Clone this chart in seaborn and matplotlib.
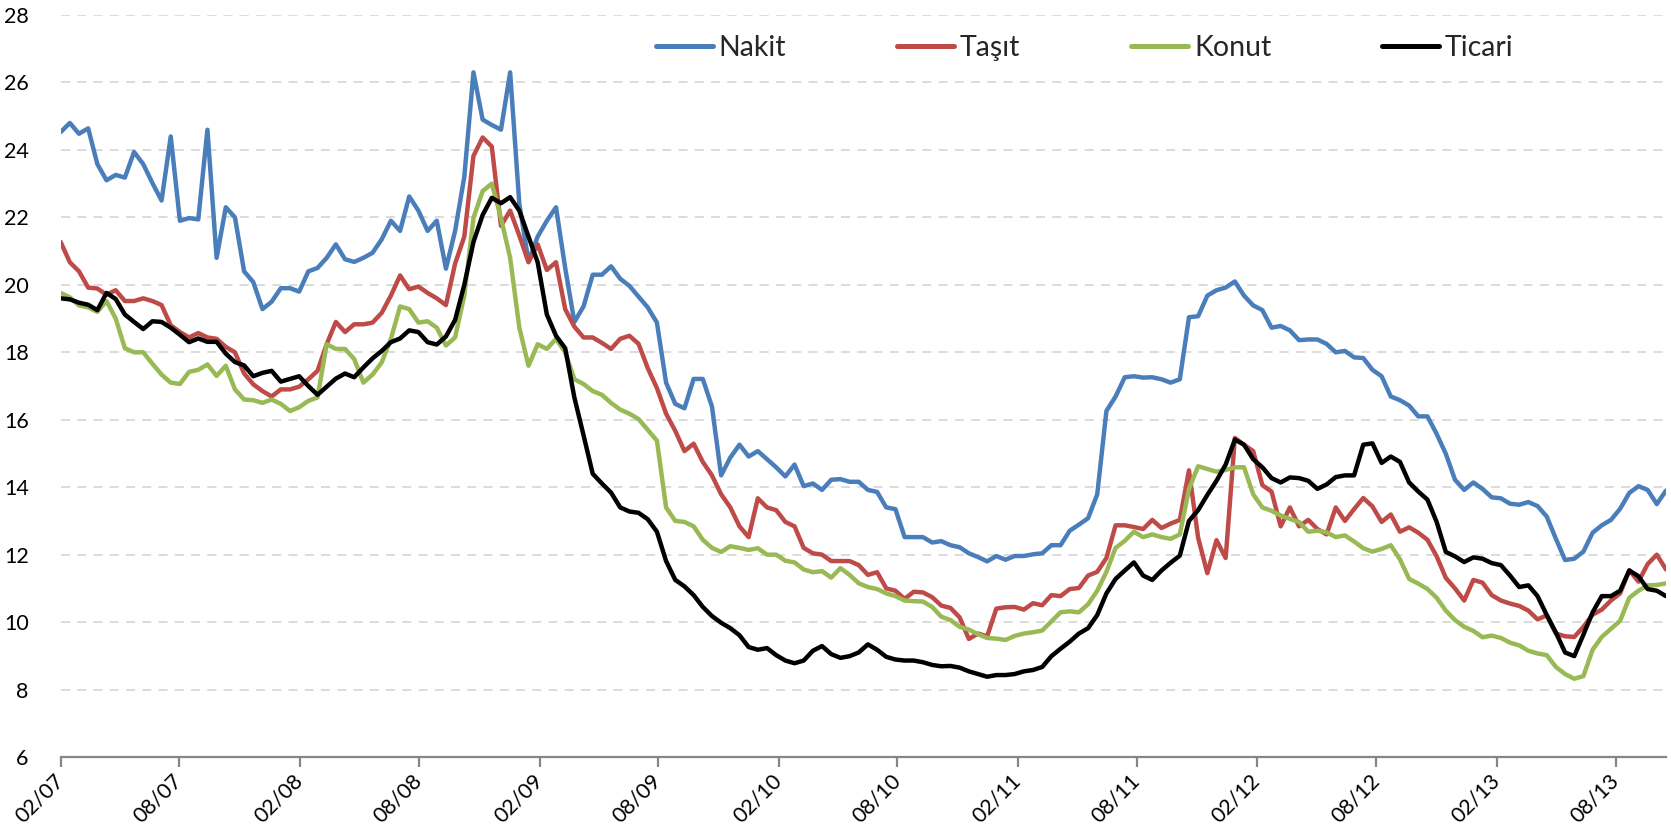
import pandas as pd
import matplotlib
matplotlib.use('Agg')
import matplotlib.pyplot as plt
import matplotlib.dates as mdates  # tarih ekseni icin
import seaborn as sns

# veriler: iki haftalik gozlemler, 02/07 - 11/13
dates = pd.date_range('2007-02-01', periods=176, freq='14D')

nakit = [24.53, 24.8, 24.48, 24.64, 23.58, 23.1, 23.26, 23.18, 23.94, 23.58, 23.02, 22.5, 24.4, 21.9, 21.98, 21.94,
         24.6, 20.8, 22.3, 22.0, 20.4, 20.08, 19.28, 19.5, 19.9, 19.9, 19.8, 20.4, 20.5, 20.8, 21.2,
         20.76, 20.68, 20.8, 20.95, 21.35, 21.9, 21.6, 22.62, 22.2, 21.6, 21.9, 20.48, 21.6, 23.2, 26.3, 24.9,
         24.74, 24.6, 26.3, 22.4, 20.7, 21.43, 21.9, 22.3, 20.5, 18.9, 19.36, 20.3, 20.3, 20.55, 20.18,
         19.97, 19.65, 19.33, 18.88, 17.1, 16.47, 16.34, 17.21, 17.21, 16.39, 14.35, 14.88, 15.26, 14.91, 15.07,
         14.83, 14.59, 14.32, 14.67, 14.03, 14.11, 13.92, 14.22, 14.24, 14.16, 14.16, 13.92, 13.86, 13.4, 13.35,
         12.52, 12.52,
         12.52, 12.36, 12.4, 12.28, 12.22, 12.04, 11.93, 11.8, 11.96, 11.85, 11.96, 11.96, 12.01, 12.04, 12.28,
         12.28, 12.71, 12.89, 13.08, 13.79, 16.26, 16.69, 17.26, 17.29, 17.25, 17.26, 17.2, 17.1, 17.2, 19.04,
         19.07, 19.68,
         19.84, 19.92, 20.1, 19.68, 19.39, 19.25, 18.73, 18.78, 18.65, 18.36, 18.38, 18.38, 18.25, 18.0, 18.04,
         17.85, 17.83, 17.48, 17.29, 16.69, 16.58, 16.42, 16.1, 16.1, 15.58, 14.99, 14.22, 13.92, 14.14, 13.95,
         13.7,
         13.67, 13.51, 13.48, 13.56, 13.44, 13.13, 12.47, 11.84, 11.88, 12.09, 12.65, 12.87, 13.03, 13.36, 13.83,
         14.03, 13.92, 13.5, 13.9]

tasit = [21.27, 20.67, 20.4, 19.92, 19.89, 19.71, 19.84, 19.52, 19.52, 19.6, 19.52, 19.4, 18.8, 18.6, 18.44, 18.57,
         18.44, 18.4, 18.16, 18.0, 17.37, 17.05, 16.85, 16.69, 16.9, 16.9, 16.98, 17.2, 17.45, 18.24, 18.9,
         18.6, 18.83, 18.83, 18.88, 19.17, 19.68, 20.28, 19.87, 19.95, 19.76, 19.6, 19.4, 20.63, 21.43, 23.82,
         24.37, 24.1, 21.75, 22.2, 21.46, 20.67, 21.2, 20.44, 20.67, 19.28, 18.76, 18.44, 18.44, 18.28, 18.1, 18.4,
         18.49, 18.25, 17.53, 16.94, 16.18, 15.67, 15.07, 15.29, 14.75, 14.35, 13.79, 13.4, 12.84, 12.52, 13.67,
         13.4, 13.32, 12.97, 12.84, 12.2, 12.04, 12.0, 11.81, 11.81, 11.81, 11.69, 11.4, 11.48, 11.0, 10.93,
         10.69, 10.9,
         10.88, 10.74, 10.49, 10.42, 10.14, 9.5, 9.66, 9.58, 10.4, 10.44, 10.45, 10.37, 10.56, 10.5, 10.8, 10.77,
         10.98, 11.01, 11.38, 11.49, 11.9, 12.87, 12.87, 12.82, 12.76, 13.03, 12.79, 12.92, 13.03, 14.5, 12.5,
         11.45,
         12.43, 11.9, 15.46, 15.26, 15.07, 14.06, 13.87, 12.84, 13.4, 12.84, 13.03, 12.76, 12.6, 13.4, 13.0,
         13.35, 13.68, 13.43, 12.97, 13.19, 12.68, 12.81, 12.65, 12.44, 11.95, 11.31, 11.0, 10.64, 11.25, 11.17,
         10.8,
         10.64, 10.55, 10.48, 10.34, 10.08, 10.2, 9.66, 9.58, 9.56, 9.86, 10.22, 10.37, 10.64, 10.85, 11.54,
         11.2, 11.72, 12.0, 11.56]

konut = [19.76, 19.63, 19.39, 19.33, 19.2, 19.52, 19.0, 18.12, 18.0, 18.0, 17.66, 17.34, 17.1, 17.06, 17.42, 17.48,
         17.64, 17.3, 17.6, 16.9, 16.6, 16.58, 16.5, 16.6, 16.47, 16.26, 16.37, 16.56, 16.66, 18.24, 18.1,
         18.1, 17.8, 17.1, 17.34, 17.7, 18.4, 19.36, 19.28, 18.88, 18.92, 18.73, 18.2, 18.44, 19.68, 21.98, 22.78,
         23.0, 21.98, 20.8, 18.73, 17.6, 18.24, 18.1, 18.4, 18.0, 17.2, 17.06, 16.85, 16.74, 16.5, 16.3,
         16.18, 16.02, 15.7, 15.38, 13.4, 13.0, 12.97, 12.84, 12.44, 12.2, 12.08, 12.25, 12.2, 12.14, 12.19,
         12.0, 12.0, 11.82, 11.77, 11.56, 11.48, 11.51, 11.32, 11.6, 11.4, 11.15, 11.04, 10.98, 10.85, 10.77,
         10.64, 10.62,
         10.61, 10.45, 10.16, 10.06, 9.86, 9.78, 9.64, 9.53, 9.51, 9.47, 9.59, 9.66, 9.7, 9.75, 10.02, 10.29,
         10.32, 10.29, 10.53, 10.93, 11.49, 12.2, 12.41, 12.68, 12.52, 12.6, 12.52, 12.47, 12.6, 13.95, 14.62,
         14.54,
         14.46, 14.51, 14.59, 14.59, 13.79, 13.4, 13.3, 13.16, 13.06, 12.97, 12.68, 12.71, 12.66, 12.52, 12.57,
         12.39, 12.19, 12.09, 12.17, 12.28, 11.86, 11.28, 11.14, 10.98, 10.72, 10.34, 10.06, 9.86, 9.74, 9.55,
         9.6,
         9.53, 9.39, 9.31, 9.15, 9.07, 9.02, 8.67, 8.46, 8.32, 8.4, 9.18, 9.56, 9.8, 10.04, 10.72, 10.93, 11.09,
         11.1, 11.15]

ticari = [19.6, 19.57, 19.47, 19.41, 19.25, 19.76, 19.58, 19.12, 18.9, 18.69, 18.92, 18.9, 18.73, 18.52, 18.3,
          18.41, 18.31, 18.31, 17.96, 17.71, 17.61, 17.29, 17.39, 17.45, 17.13, 17.21, 17.29, 17.0, 16.74, 16.98,
          17.22,
          17.37, 17.26, 17.55, 17.82, 18.04, 18.3, 18.41, 18.65, 18.6, 18.3, 18.23, 18.47, 18.96, 20.0, 21.27,
          22.07, 22.58, 22.42, 22.6, 22.2, 21.43, 20.67, 19.12, 18.49, 18.12, 16.66, 15.54, 14.4, 14.11, 13.84,
          13.4,
          13.28, 13.24, 13.05, 12.68, 11.81, 11.25, 11.06, 10.8, 10.45, 10.18, 9.98, 9.82, 9.61, 9.26, 9.18, 9.23,
          9.02, 8.86, 8.78, 8.86, 9.15, 9.29, 9.05, 8.94, 8.99, 9.1, 9.34, 9.18, 8.97, 8.89, 8.86, 8.86,
          8.81, 8.73, 8.69, 8.7, 8.65, 8.54, 8.46, 8.38, 8.43, 8.43, 8.46, 8.54, 8.58, 8.67, 8.99, 9.21, 9.42,
          9.66, 9.82, 10.21, 10.85, 11.28, 11.53, 11.77, 11.38, 11.25, 11.53, 11.76, 11.97, 13.0, 13.32, 13.77,
          14.19, 14.67, 15.41, 15.26, 14.83, 14.59, 14.27, 14.14, 14.29, 14.27, 14.19, 13.95, 14.08, 14.3, 14.35,
          14.35, 15.26, 15.3, 14.72, 14.91, 14.75, 14.14, 13.87, 13.63, 12.97, 12.08, 11.95, 11.78, 11.92, 11.88,
          11.75,
          11.69, 11.38, 11.04, 11.09, 10.77, 10.21, 9.69, 9.1, 8.99, 9.63, 10.29, 10.77, 10.77, 10.93, 11.53,
          11.36, 10.98, 10.93, 10.77]

series_names = ['Nakit', 'Taşıt', 'Konut', 'Ticari']
colors = ['#4A7EBB', '#BE4B48', '#98B954', '#000000']

df = pd.DataFrame({'tarih': dates, 'Nakit': nakit, 'Taşıt': tasit, 'Konut': konut, 'Ticari': ticari})
long = df.melt(id_vars='tarih', var_name='seri', value_name='faiz')

sns.set_theme(style='white')
plt.rcParams['font.family'] = ['Lato', 'DejaVu Sans']

fig = plt.figure(figsize=(16.71, 8.4), dpi=100)
ax = fig.add_axes([0.0363, 0.0988, 0.9607, 0.8833])
sns.lineplot(data=long, x='tarih', y='faiz', hue='seri', hue_order=series_names,
             palette=colors, linewidth=3.2, ax=ax, solid_joinstyle='round')

ax.set_ylim(6, 28)
ax.set_yticks(range(6, 29, 2))
ax.set_xlim(dates[0], dates[-1])

# her 6 ayda bir tick
ax.xaxis.set_major_locator(mdates.MonthLocator(bymonth=[2, 8]))
ax.xaxis.set_major_formatter(mdates.DateFormatter('%m/%y'))

ax.grid(axis='y', color='#d9d9d9', linestyle=(0, (5, 4)), linewidth=1.3)
ax.grid(axis='x', visible=False)
ax.set_axisbelow(True)
sns.despine(ax=ax, left=True)
ax.spines['bottom'].set_color('#868686')
ax.spines['bottom'].set_linewidth(1.6)
ax.tick_params(axis='x', bottom=True, length=7, width=1.6, color='#868686', labelsize=15.5, pad=8,
               labelcolor='black')
ax.tick_params(axis='y', left=False, labelsize=15.5, pad=17, labelcolor='black')
plt.setp(ax.get_xticklabels(), rotation=45, ha='right', va='center', rotation_mode='anchor')
ax.set_xlabel('')
ax.set_ylabel('')

handles, labels = ax.get_legend_handles_labels()
leg = ax.legend(handles, labels, loc='center', bbox_to_anchor=(0.638, 0.955), ncol=4, frameon=False,
                fontsize=20.5, handlelength=2.0, handletextpad=0.2, columnspacing=3.9)
for line in leg.get_lines():
    line.set_linewidth(3.6)

fig.savefig('out.png', dpi=100)
